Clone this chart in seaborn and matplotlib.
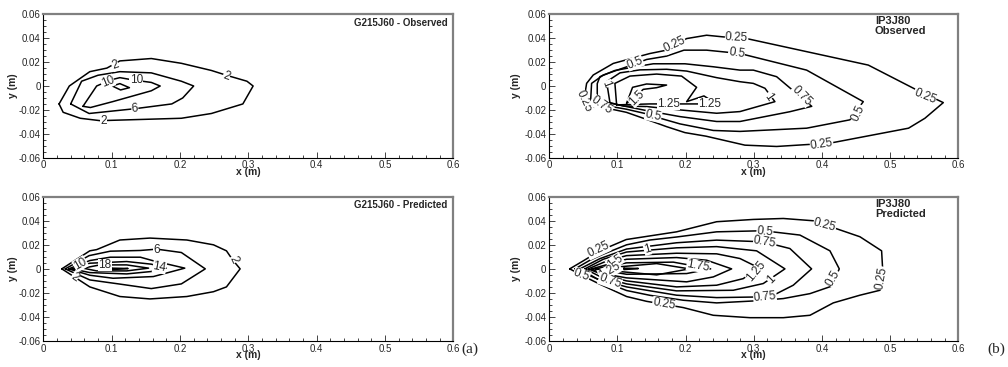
import matplotlib
matplotlib.use("Agg")
import matplotlib.pyplot as plt
from matplotlib.ticker import MultipleLocator
import seaborn as sns

# tick labels
X_TICKS = [0.0, 0.1, 0.2, 0.3, 0.4, 0.5, 0.6]
X_TICKLABELS = ["0", "0.1", "0.2", "0.3", "0.4", "0.5", "0.6"]
Y_TICKS = [-0.06, -0.04, -0.02, 0.0, 0.02, 0.04, 0.06]
Y_TICKLABELS = ["-0.06", "-0.04", "-0.02", "0", "0.02", "0.04", "0.06"]

# contour lines (x, y) in m
# G215J60 observed, levels 2 / 6 / 10 / 14
G_OBS_2 = [(0.023, -0.015), (0.029, -0.022), (0.054, -0.027), (0.083, -0.029), (0.202, -0.027),
           (0.246, -0.023), (0.292, -0.015), (0.307, 0.0), (0.298, 0.004), (0.268, 0.009),
           (0.246, 0.013), (0.202, 0.019), (0.158, 0.023), (0.112, 0.021), (0.093, 0.015),
           (0.068, 0.012), (0.038, 0.0)]
G_OBS_6 = [(0.040, -0.015), (0.067, -0.023), (0.134, -0.019), (0.188, -0.015), (0.204, -0.010),
           (0.220, 0.0), (0.202, 0.004), (0.158, 0.011), (0.112, 0.012), (0.080, 0.009), (0.056, 0.004)]
G_OBS_10 = [(0.058, -0.017), (0.069, -0.018), (0.102, -0.013), (0.158, -0.004), (0.171, 0.0),
            (0.158, 0.003), (0.132, 0.005), (0.112, 0.007), (0.098, 0.005), (0.078, 0.0)]
G_OBS_14 = [(0.101, 0.0), (0.112, 0.002), (0.126, -0.0014), (0.113, -0.0033)]
G_OBS_LABELS = [("2", 0.105, 0.0175, 20), ("2", 0.268, 0.0085, -20), ("2", 0.088, -0.029, 0),
                ("6", 0.134, -0.0193, 5), ("10", 0.094, 0.0035, 22), ("10", 0.136, 0.005, 0)]

# G215J60 predicted, levels 2 / 6 / 10 / 14 / 18 / 22
G_PRED_2 = [(0.027, 0.0), (0.068, 0.015), (0.078, 0.016), (0.112, 0.024), (0.156, 0.0256),
            (0.210, 0.024), (0.249, 0.020), (0.268, 0.015), (0.277, 0.0075), (0.288, 0.0),
            (0.268, -0.015), (0.249, -0.019), (0.210, -0.023), (0.156, -0.025), (0.112, -0.023),
            (0.068, -0.015), (0.049, -0.008)]
G_PRED_6 = [(0.032, 0.0), (0.067, 0.011), (0.098, 0.0147), (0.142, 0.0153), (0.166, 0.0164),
            (0.202, 0.0136), (0.237, 0.0), (0.202, -0.0125), (0.158, -0.0164), (0.110, -0.0125),
            (0.068, -0.0092)]
G_PRED_10 = [(0.037, 0.0), (0.068, 0.0069), (0.098, 0.0097), (0.142, 0.0097), (0.161, 0.0067),
             (0.207, 0.0006), (0.161, -0.0064), (0.102, -0.0078), (0.068, -0.0053)]
G_PRED_14 = [(0.042, 0.0), (0.068, 0.0047), (0.122, 0.0061), (0.158, 0.0039), (0.180, 0.0006),
             (0.158, -0.0022), (0.122, -0.0042), (0.068, -0.0031)]
G_PRED_18 = [(0.058, 0.0006), (0.083, 0.0033), (0.122, 0.0033), (0.154, 0.0006), (0.122, -0.0017),
             (0.078, -0.0017)]
G_PRED_22 = [(0.100, 0.0006), (0.124, 0.0003), (0.100, -0.0006)]
G_PRED_LABELS = [("10", 0.054, 0.0042, 30), ("18", 0.090, 0.0033, 0), ("14", 0.170, 0.0014, -10),
                 ("6", 0.166, 0.0158, 0), ("2", 0.046, -0.0069, -35), ("2", 0.278, 0.0075, -65)]

# IP3J80 observed, levels 0.25 ... 1.5
IP_OBS_025 = [(0.0509, -0.0117), (0.0548, 0.0022), (0.0645, 0.0092), (0.0939, 0.0189), (0.1208, 0.0231),
              (0.1477, 0.0272), (0.1721, 0.030), (0.2015, 0.0397), (0.2308, 0.0425), (0.2553, 0.0411),
              (0.2895, 0.0397), (0.468, 0.0175), (0.539, -0.0033), (0.578, -0.0139), (0.551, -0.027),
              (0.527, -0.0353), (0.412, -0.0478), (0.3335, -0.0506), (0.287, -0.0495), (0.230, -0.042),
              (0.199, -0.039), (0.172, -0.034), (0.143, -0.028), (0.113, -0.022), (0.080, -0.018)]
IP_OBS_05 = [(0.0606, -0.0131), (0.0621, 0.0022), (0.0792, 0.0092), (0.1208, 0.0175), (0.1428, 0.0222),
             (0.172, 0.025), (0.1976, 0.030), (0.2308, 0.030), (0.2797, 0.0272), (0.3775, 0.0133),
             (0.4606, -0.0131), (0.441, -0.0283), (0.3775, -0.0353), (0.2797, -0.038), (0.2406, -0.0372),
             (0.1917, -0.0317), (0.1623, -0.0269), (0.1428, -0.0233), (0.113, -0.0194), (0.079, -0.016)]
IP_OBS_075 = [(0.0704, -0.008), (0.0704, 0.002), (0.0743, 0.0078), (0.0963, 0.013), (0.1232, 0.0158),
              (0.1526, 0.0186), (0.199, 0.0186), (0.2406, 0.0161), (0.2797, 0.0133), (0.2993, 0.0133),
              (0.3335, 0.0078), (0.385, -0.017), (0.353, -0.0215), (0.2797, -0.0297), (0.2455, -0.0297),
              (0.1917, -0.0256), (0.1428, -0.0206), (0.1134, -0.0172), (0.0792, -0.0131)]
IP_OBS_1 = [(0.089, -0.0139), (0.0841, 0.0036), (0.1037, 0.011), (0.133, 0.0135), (0.1721, 0.014),
            (0.2015, 0.0125), (0.2455, 0.007), (0.2797, 0.0036), (0.2993, 0.0022), (0.3164, -0.0019),
            (0.331, -0.0131), (0.2797, -0.0214), (0.2455, -0.0228), (0.1917, -0.020), (0.1428, -0.0172),
            (0.1086, -0.0167)]
IP_OBS_125 = [(0.0988, -0.0158), (0.0963, 0.0022), (0.1183, 0.0083), (0.1575, 0.010), (0.1941, 0.0083),
              (0.2161, -0.0011), (0.2015, -0.0131), (0.2269, -0.0083), (0.2455, -0.015), (0.2015, -0.015),
              (0.1477, -0.015)]
IP_OBS_15 = [(0.1134, -0.0144), (0.1222, -0.0011), (0.1428, 0.0017), (0.1721, 0.0008), (0.1575, -0.0014),
             (0.1379, -0.0028), (0.1232, -0.0103)]
IP_OBS_LABELS = [("0.25", 0.184, 0.0345, 25), ("0.25", 0.2748, 0.0402, -3), ("0.25", 0.551, -0.0085, -22),
                 ("0.25", 0.3995, -0.0487, 8), ("0.25", 0.0505, -0.013, -65), ("0.5", 0.1257, 0.0195, 22),
                 ("0.5", 0.2748, 0.0277, -8), ("0.5", 0.4533, -0.0225, 65), ("0.5", 0.1526, -0.0245, -12),
                 ("0.75", 0.0768, -0.0162, -35), ("0.75", 0.370, -0.008, -45), ("1", 0.0835, 0.0015, -70),
                 ("1", 0.321, -0.0089, -55), ("1.25", 0.1746, -0.015, 0), ("1.25", 0.2347, -0.015, 0),
                 ("1.5", 0.1281, -0.010, 45)]

# IP3J80 predicted, levels 0.25 ... 2.25
IP_PRED_025 = [(0.030, 0.0), (0.050, 0.0067), (0.074, 0.015), (0.113, 0.0244), (0.1868, 0.0308),
               (0.2455, 0.0392), (0.2993, 0.0411), (0.3433, 0.0419), (0.3873, 0.040), (0.4557, 0.0267),
               (0.4875, 0.015), (0.489, 0.0), (0.4851, -0.0178), (0.4557, -0.0219), (0.4166, -0.0283),
               (0.3824, -0.0386), (0.3433, -0.0406), (0.2944, -0.0406), (0.2406, -0.0386), (0.1966, -0.0322),
               (0.1428, -0.027), (0.1134, -0.023), (0.0743, -0.0128), (0.050, -0.006)]
IP_PRED_05 = [(0.0377, 0.0), (0.0597, 0.0072), (0.0792, 0.0122), (0.1134, 0.020), (0.1477, 0.024),
              (0.1868, 0.0265), (0.2455, 0.0308), (0.3139, 0.0317), (0.3677, 0.0281), (0.4117, 0.015),
              (0.4254, 0.0), (0.4142, -0.0144), (0.3824, -0.0206), (0.3433, -0.0247), (0.2993, -0.0267),
              (0.2455, -0.0283), (0.1966, -0.0261), (0.1477, -0.022), (0.1134, -0.018), (0.0743, -0.0094)]
IP_PRED_075 = [(0.045, 0.0), (0.0743, 0.0085), (0.1134, 0.0165), (0.1868, 0.0217), (0.2455, 0.0239),
               (0.3139, 0.0225), (0.353, 0.0169), (0.3848, 0.0), (0.3579, -0.0136), (0.3335, -0.0206),
               (0.3139, -0.0233), (0.2455, -0.0239), (0.1868, -0.0219), (0.1134, -0.015), (0.0694, -0.0081)]
IP_PRED_1 = [(0.0523, 0.0), (0.0792, 0.008), (0.1134, 0.014), (0.1868, 0.0175), (0.2455, 0.0185),
             (0.3041, 0.015), (0.3457, 0.0), (0.3139, -0.0122), (0.2699, -0.0178), (0.1868, -0.0183),
             (0.1134, -0.0125), (0.0743, -0.0063)]
IP_PRED_125 = [(0.0572, 0.0), (0.0841, 0.0065), (0.1134, 0.011), (0.1868, 0.013), (0.2455, 0.0125),
               (0.2797, 0.0086), (0.3066, 0.0011), (0.2846, -0.0081), (0.2455, -0.0136), (0.1868, -0.015),
               (0.1134, -0.010), (0.0792, -0.005)]
IP_PRED_15 = [(0.0621, 0.0), (0.1134, 0.008), (0.1868, 0.0094), (0.2308, 0.0072), (0.2675, 0.0),
              (0.2406, -0.0067), (0.2015, -0.0108), (0.1134, -0.0075), (0.0743, -0.0035)]
IP_PRED_175 = [(0.067, 0.0), (0.1134, 0.005), (0.1819, 0.0056), (0.2367, 0.0), (0.2015, -0.0039),
               (0.1134, -0.0045)]
IP_PRED_2 = [(0.0988, 0.0015), (0.1575, 0.0044), (0.2054, 0.0), (0.1575, -0.005), (0.0988, -0.002)]
IP_PRED_225 = [(0.1095, 0.0006), (0.1306, 0.0003), (0.1095, -0.0006)]
IP_PRED_LABELS = [("0.25", 0.0719, 0.0158, 25), ("1", 0.1437, 0.0165, 15), ("1.5", 0.0963, 0.0061, 35),
                  ("1.25", 0.089, -0.0017, 30), ("0.5", 0.0475, -0.005, -20), ("0.75", 0.089, -0.0106, -20),
                  ("0.25", 0.1682, -0.0292, -10), ("1.75", 0.2185, 0.0025, -10), ("1.25", 0.3041, -0.0022, 50),
                  ("0.5", 0.3163, 0.0311, -5), ("0.75", 0.3163, 0.0222, -10), ("0.25", 0.4042, 0.0365, -15),
                  ("1", 0.3261, -0.0092, 45), ("0.75", 0.3163, -0.0231, 5), ("0.5", 0.4164, -0.0078, 60),
                  ("0.25", 0.4874, -0.0078, 80)]


def draw_panel(ax, contours, labels):
    for pts in contours:
        pts = list(pts) + [pts[0]]
        xs = [p[0] for p in pts]
        ys = [p[1] for p in pts]
        sns.lineplot(x=xs, y=ys, sort=False, estimator=None, color="black", lw=1.1, ax=ax)
    for txt, x, y, rot in labels:
        ax.text(x, y, txt, rotation=rot, ha="center", va="center", fontsize=8.5,
                rotation_mode="anchor", zorder=5,
                bbox=dict(fc="white", ec="none", pad=0.2))
    ax.set_xlim(0, 0.6)
    ax.set_ylim(-0.06, 0.06)
    ax.set_xticks(X_TICKS)
    ax.set_xticklabels(X_TICKLABELS)
    ax.set_yticks(Y_TICKS)
    ax.set_yticklabels(Y_TICKLABELS)
    ax.xaxis.set_minor_locator(MultipleLocator(0.02))
    ax.yaxis.set_minor_locator(MultipleLocator(0.005))
    ax.tick_params(which="both", direction="in", top=False, right=False, width=0.6,
                   labelsize=7, pad=2)
    ax.tick_params(which="major", length=4)
    ax.tick_params(which="minor", length=2)
    for s in ["top", "right"]:
        ax.spines[s].set_color("#808080")
        ax.spines[s].set_linewidth(1.6)
    for s in ["left", "bottom"]:
        ax.spines[s].set_color("black")
        ax.spines[s].set_linewidth(0.8)
    ax.set_xlabel("x (m)", fontsize=7.5, fontweight="bold")
    ax.set_ylabel("y (m)", fontsize=7.5, fontweight="bold")
    ax.xaxis.set_label_coords(0.5, -0.065)


sns.set_style("ticks")
plt.rcParams["font.family"] = ["Liberation Sans", "DejaVu Sans"]

fig = plt.figure(figsize=(10.08, 3.67), dpi=100)
ax1 = fig.add_axes([0.043, 0.5703, 0.4067, 0.3907])
ax2 = fig.add_axes([0.043, 0.0708, 0.4067, 0.3932])
ax3 = fig.add_axes([0.5449, 0.5703, 0.4058, 0.3907])
ax4 = fig.add_axes([0.5449, 0.0708, 0.4058, 0.3932])

draw_panel(ax1, [G_OBS_2, G_OBS_6, G_OBS_10, G_OBS_14], G_OBS_LABELS)
draw_panel(ax2, [G_PRED_2, G_PRED_6, G_PRED_10, G_PRED_14, G_PRED_18, G_PRED_22], G_PRED_LABELS)
draw_panel(ax3, [IP_OBS_025, IP_OBS_05, IP_OBS_075, IP_OBS_1, IP_OBS_125, IP_OBS_15], IP_OBS_LABELS)
draw_panel(ax4, [IP_PRED_025, IP_PRED_05, IP_PRED_075, IP_PRED_1, IP_PRED_125, IP_PRED_15,
                 IP_PRED_175, IP_PRED_2, IP_PRED_225], IP_PRED_LABELS)

for ax in [ax1, ax2]:
    ax.yaxis.set_label_coords(-0.062, 0.5)
for ax in [ax3, ax4]:
    ax.yaxis.set_label_coords(-0.07, 0.5)

ax1.text(0.985, 0.975, "G215J60 - Observed", transform=ax1.transAxes, ha="right", va="top",
         fontsize=7, fontweight="bold")
ax2.text(0.985, 0.975, "G215J60 - Predicted", transform=ax2.transAxes, ha="right", va="top",
         fontsize=7, fontweight="bold")
ax3.text(0.796, 0.985, "IP3J80\nObserved", transform=ax3.transAxes, ha="left", va="top",
         fontsize=8, fontweight="bold", linespacing=1.0)
ax4.text(0.796, 0.985, "IP3J80\nPredicted", transform=ax4.transAxes, ha="left", va="top",
         fontsize=8, fontweight="bold", linespacing=1.0)

fig.text(0.458, 0.049, "(a)", fontsize=11, family="Liberation Serif", va="center")
fig.text(0.980, 0.049, "(b)", fontsize=11, family="Liberation Serif", va="center")

fig.savefig("out.png", dpi=100)
